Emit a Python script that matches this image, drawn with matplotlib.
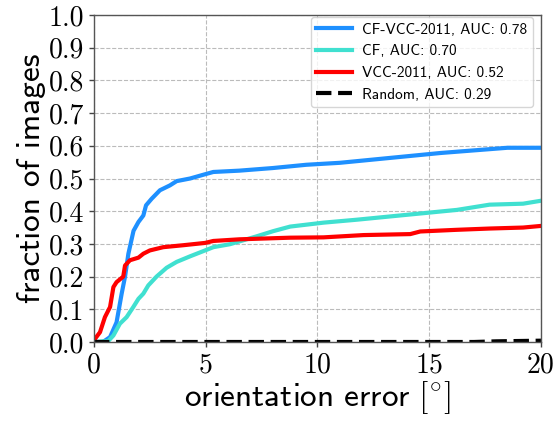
import numpy as np
import matplotlib
matplotlib.use("Agg")
import matplotlib.pyplot as plt

plt.rcParams['mathtext.fontset'] = 'cm'
plt.rcParams['axes.formatter.use_mathtext'] = True

# curves (orientation error in degrees, fraction of images)
cfvcc_x = [0, 0.4, 0.72, 1.01, 1.24, 1.39, 1.54, 1.77, 1.99, 2.21, 2.33, 2.58, 2.95, 3.4, 3.7,
           4.3, 4.97, 5.34, 6.5, 8.0, 9.5, 11.0, 12.5, 14.0, 15.5, 17.0, 18.5, 20]
cfvcc_y = [0, 0, 0.015, 0.06, 0.148, 0.2, 0.27, 0.34, 0.367, 0.387, 0.418, 0.438, 0.464, 0.479, 0.492,
           0.5, 0.513, 0.52, 0.524, 0.532, 0.542, 0.548, 0.558, 0.568, 0.578, 0.586, 0.594, 0.594]

cf_x = [0, 0.64, 0.87, 1.16, 1.46, 1.76, 1.99, 2.21, 2.43, 2.8, 3.25, 3.7, 4.3, 4.97, 5.34,
        6.08, 6.68, 7.27, 8.02, 8.78, 10.27, 11.76, 13.25, 14.75, 16.24, 17.7, 19.2, 20]
cf_y = [0, 0.003, 0.02, 0.056, 0.076, 0.107, 0.132, 0.148, 0.173, 0.2, 0.227, 0.245, 0.262, 0.28, 0.29,
        0.299, 0.311, 0.323, 0.339, 0.353, 0.365, 0.374, 0.384, 0.394, 0.404, 0.42, 0.423, 0.432]

vcc_x = [0, 0.05, 0.27, 0.49, 0.72, 0.87, 1.01, 1.31, 1.39, 1.61, 1.99, 2.21, 2.5, 3.1, 4.0,
         4.97, 5.34, 6.5, 8.77, 10.27, 12.06, 14.15, 14.6, 16.2, 17.7, 19.2, 20]
vcc_y = [0, 0.01, 0.03, 0.076, 0.107, 0.168, 0.183, 0.2, 0.234, 0.25, 0.258, 0.27, 0.28, 0.29, 0.296,
         0.303, 0.309, 0.314, 0.319, 0.32, 0.327, 0.33, 0.338, 0.343, 0.347, 0.35, 0.355]

rand_x = [0, 17, 18, 20]
rand_y = [0, 0, 0.002, 0.004]

labels = ["CF-VCC-2011, AUC: 0.78", "CF, AUC: 0.70", "VCC-2011, AUC: 0.52", "Random, AUC: 0.29"]

fig = plt.figure(figsize=(5.56, 4.23), dpi=100)
ax = fig.add_axes([0.169, 0.1915, 0.804, 0.773])

ax.plot(cfvcc_x, cfvcc_y, color="#1E90FF", lw=3, label=labels[0])
ax.plot(cf_x, cf_y, color="#40E0D0", lw=3, label=labels[1])
ax.plot(vcc_x, vcc_y, color="red", lw=3, label=labels[2])
ax.plot(rand_x, rand_y, color="black", lw=3, ls="--", label=labels[3])

ax.set_xlim(0, 20)
ax.set_ylim(0, 1.0)
ax.set_xticks([0, 5, 10, 15, 20])
ax.set_yticks(np.arange(0, 1.01, 0.1))
ax.set_xticklabels(["0", "5", "10", "15", "20"])
ax.set_yticklabels(["%.1f" % v for v in np.arange(0, 1.01, 0.1)])
for t in ax.get_xticklabels() + ax.get_yticklabels():
    t.set_fontfamily("cmr10")
    t.set_fontsize(20)
ax.tick_params(direction="out", length=3.5, width=1, colors="#444444", labelcolor="black", pad=3.5)

ax.grid(True, ls="--", color="#bbbbbb", lw=0.8)
for s in ax.spines.values():
    s.set_color("#555555")
    s.set_linewidth(1)

ax.set_xlabel(r"$\mathsf{orientation\ error\ [^{\circ}]}$", fontsize=24, labelpad=1)
ax.set_ylabel("fraction of images", fontfamily="cmss10", fontsize=24, labelpad=2)

leg = ax.legend(loc="upper right", bbox_to_anchor=(0.9815, 0.993), borderaxespad=0,
                prop={"family": "cmss10", "size": 11}, framealpha=0.8, edgecolor="#cccccc",
                handlelength=2.3, handletextpad=0.7, borderpad=0.35, labelspacing=0.5)

fig.savefig("out.png", dpi=100)
